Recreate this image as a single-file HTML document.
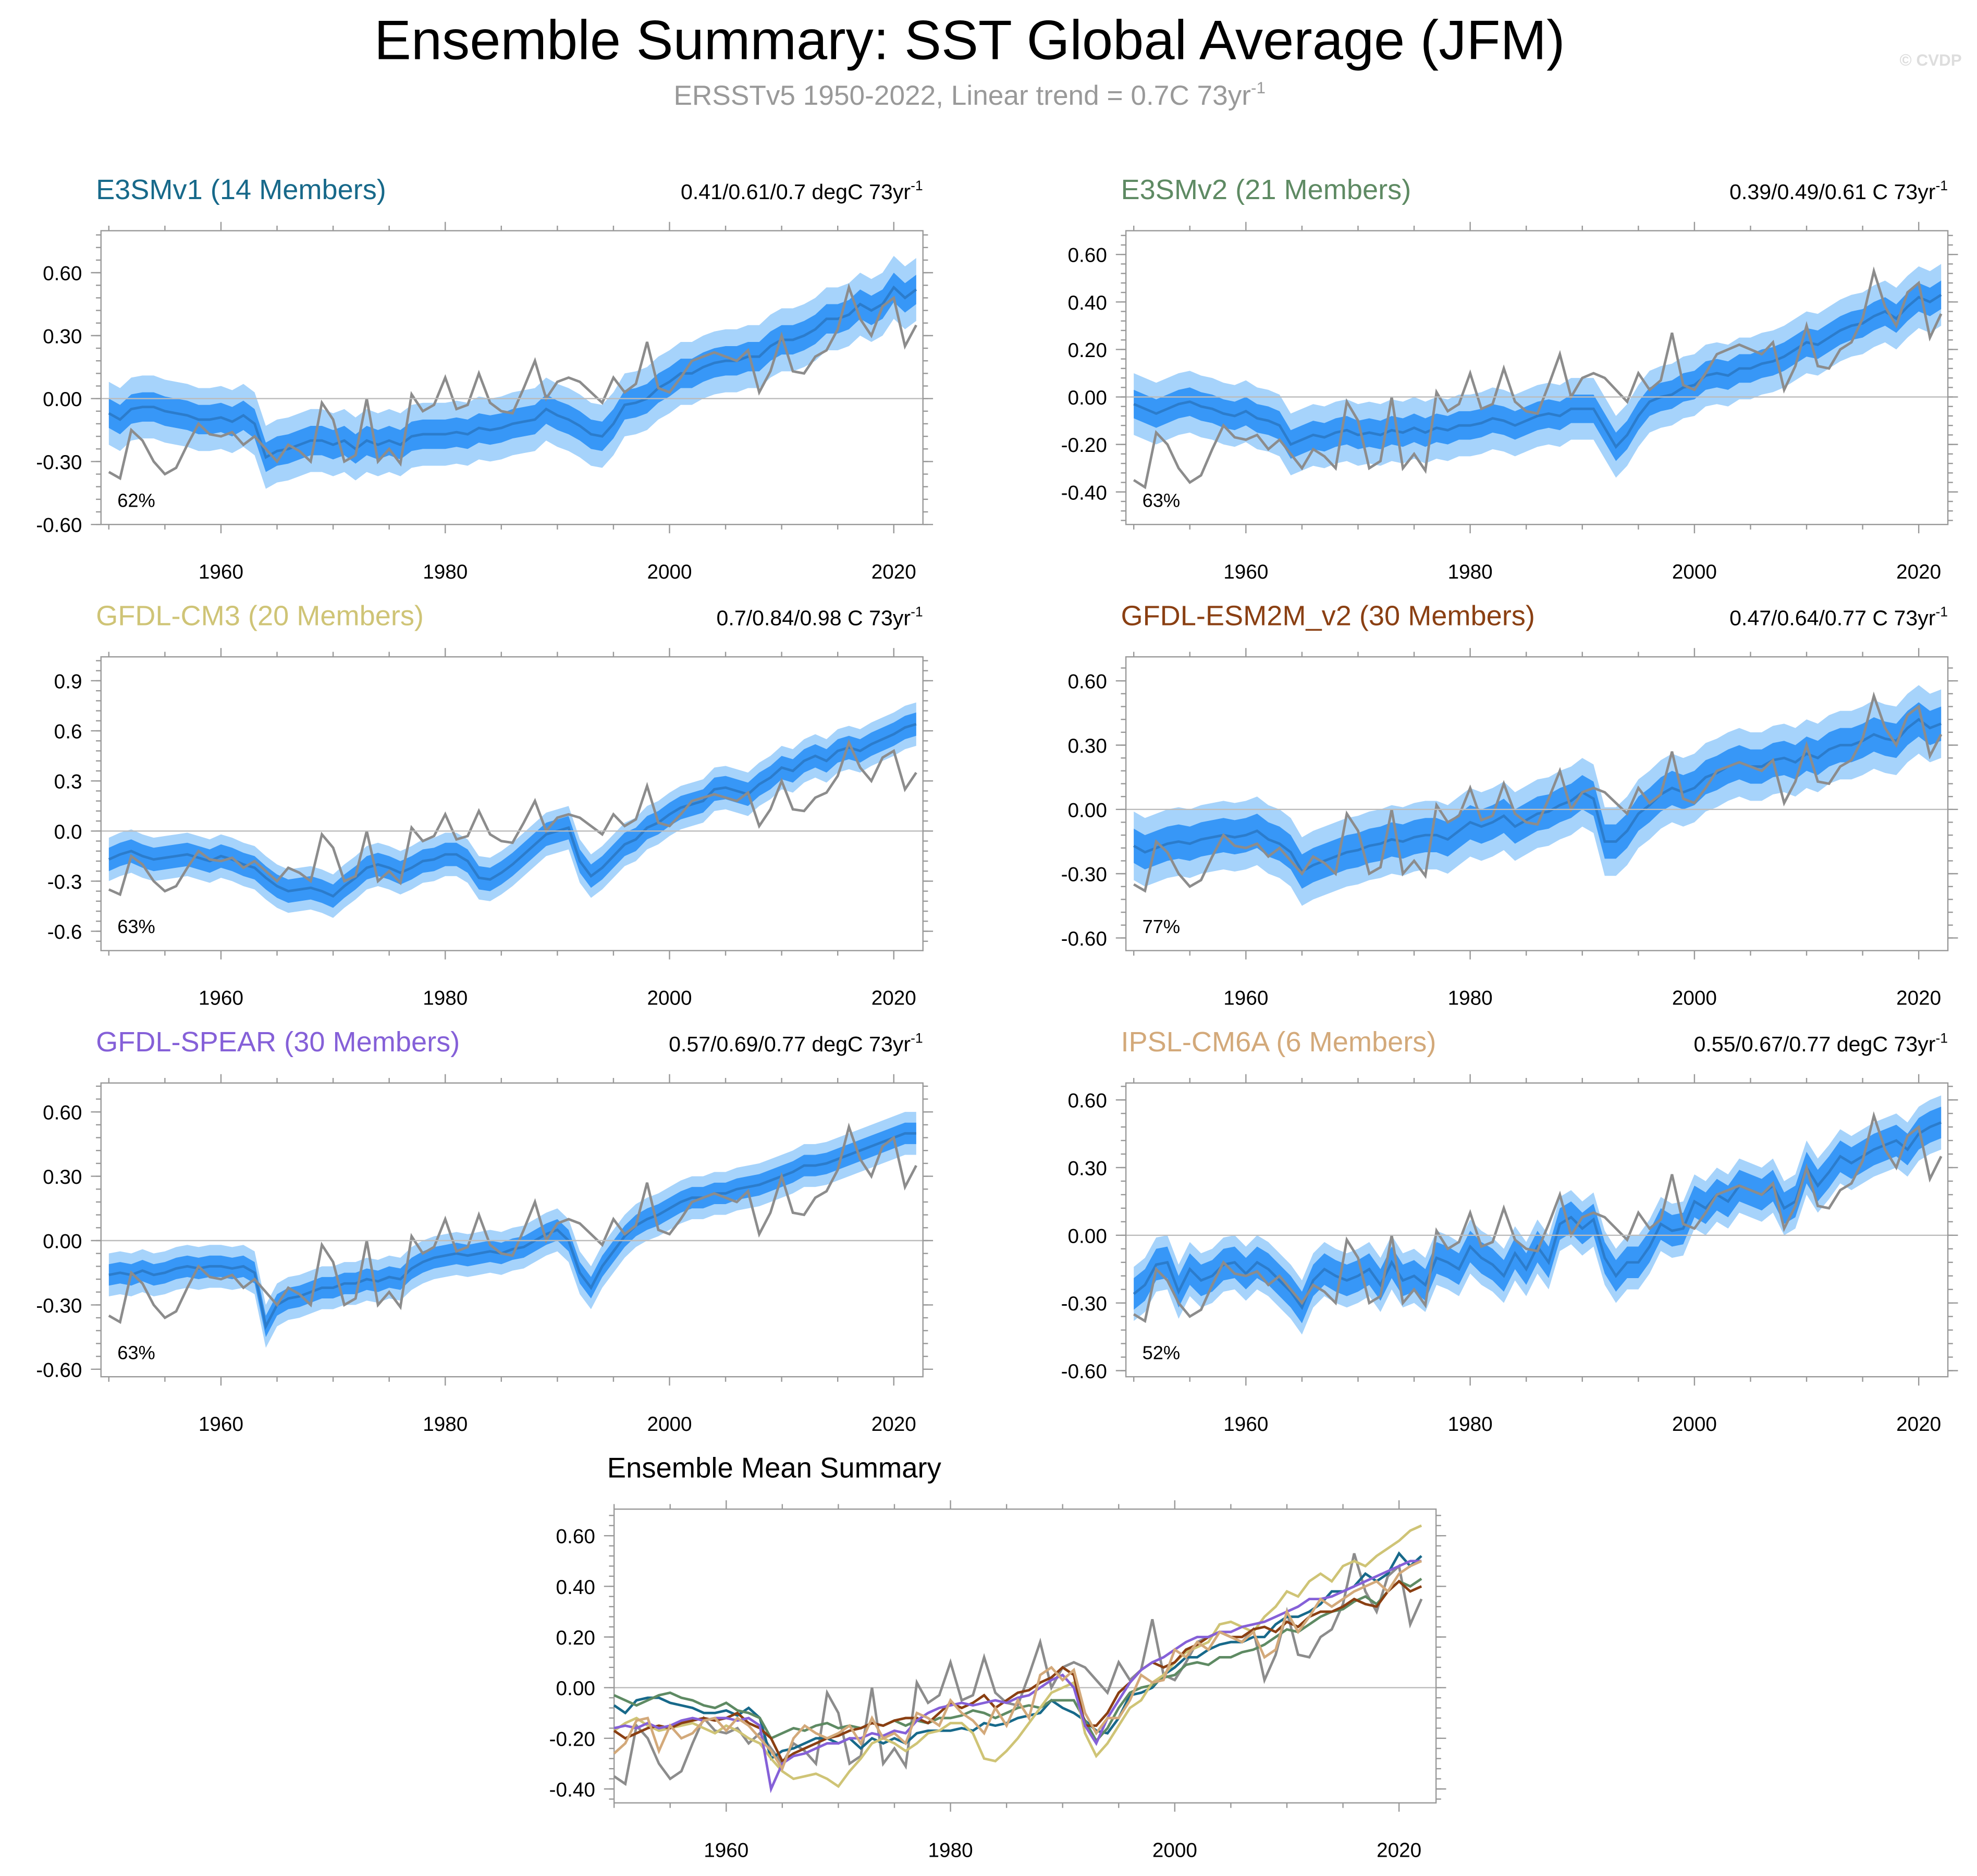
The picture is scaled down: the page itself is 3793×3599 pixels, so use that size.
<!DOCTYPE html>
<html><head><meta charset="utf-8">
<style>
html,body{margin:0;padding:0;background:#fff;}
svg{display:block;font-family:"Liberation Sans",sans-serif;}
</style></head>
<body>
<svg id="chart" width="3793" height="3599" viewBox="0 0 1568 1488" xmlns="http://www.w3.org/2000/svg">
<text x="769" y="47" font-size="44" text-anchor="middle" fill="#000">Ensemble Summary: SST Global Average (JFM)</text>
<text x="769" y="83" font-size="22" text-anchor="middle" fill="#999">ERSSTv5 1950-2022, Linear trend = 0.7C 73yr<tspan dy="-9" font-size="13">-1</tspan></text>
<text x="1556" y="52" font-size="13" text-anchor="end" fill="#ddd" font-weight="bold">© CVDP</text>
<g id="plots"></g>
</svg>
<script>
const years = [];
for (let y = 1950; y <= 2022; y++) years.push(y);

const obs = [
-0.35,-0.38,-0.15,-0.20,-0.30,-0.36,-0.33,-0.22,-0.12,-0.17,
-0.18,-0.16,-0.22,-0.18,-0.24,-0.30,-0.22,-0.25,-0.30,-0.02,
-0.10,-0.30,-0.27,0.00,-0.30,-0.24,-0.31,0.02,-0.06,-0.03,
0.10,-0.05,-0.03,0.12,-0.02,-0.06,-0.07,0.05,0.18,0.00,
0.08,0.10,0.08,0.03,-0.02,0.10,0.03,0.07,0.27,0.05,
0.03,0.10,0.18,0.20,0.22,0.20,0.18,0.23,0.03,0.13,
0.30,0.13,0.12,0.20,0.23,0.33,0.53,0.38,0.30,0.44,
0.48,0.25,0.35];

const meanE3SMv1 = [
-0.07,-0.10,-0.05,-0.04,-0.04,-0.06,-0.07,-0.08,-0.10,-0.10,
-0.09,-0.11,-0.08,-0.12,-0.28,-0.25,-0.24,-0.22,-0.20,-0.20,
-0.22,-0.20,-0.24,-0.20,-0.22,-0.20,-0.22,-0.18,-0.17,-0.17,
-0.17,-0.16,-0.17,-0.14,-0.15,-0.14,-0.12,-0.11,-0.10,-0.05,
-0.08,-0.10,-0.13,-0.17,-0.18,-0.12,-0.03,-0.02,0.00,0.05,
0.08,0.12,0.12,0.15,0.17,0.18,0.18,0.20,0.20,0.25,
0.28,0.28,0.30,0.33,0.38,0.38,0.40,0.45,0.42,0.45,
0.53,0.48,0.52];
const meanE3SMv2 = [
-0.03,-0.05,-0.07,-0.05,-0.03,-0.02,-0.04,-0.05,-0.07,-0.08,
-0.06,-0.09,-0.10,-0.12,-0.20,-0.18,-0.16,-0.17,-0.15,-0.14,
-0.16,-0.15,-0.16,-0.14,-0.15,-0.13,-0.15,-0.13,-0.14,-0.12,
-0.12,-0.11,-0.09,-0.10,-0.12,-0.10,-0.08,-0.07,-0.08,-0.05,
-0.05,-0.05,-0.13,-0.21,-0.16,-0.08,-0.02,0.00,0.01,0.04,
0.05,0.09,0.10,0.09,0.12,0.12,0.14,0.15,0.17,0.20,
0.23,0.22,0.25,0.28,0.30,0.31,0.34,0.36,0.33,0.38,
0.42,0.40,0.43];
const meanCM3 = [
-0.17,-0.14,-0.12,-0.15,-0.17,-0.16,-0.15,-0.14,-0.16,-0.18,
-0.15,-0.17,-0.20,-0.22,-0.28,-0.33,-0.36,-0.35,-0.34,-0.36,
-0.39,-0.33,-0.28,-0.22,-0.20,-0.22,-0.25,-0.22,-0.18,-0.17,
-0.14,-0.14,-0.18,-0.28,-0.29,-0.25,-0.20,-0.14,-0.08,-0.02,
0.00,0.02,-0.18,-0.27,-0.22,-0.15,-0.08,-0.05,0.02,0.05,
0.10,0.14,0.16,0.18,0.25,0.26,0.24,0.22,0.28,0.32,
0.38,0.36,0.42,0.45,0.42,0.48,0.50,0.48,0.52,0.55,
0.58,0.62,0.64];
const meanESM2M = [
-0.17,-0.20,-0.18,-0.16,-0.15,-0.16,-0.14,-0.13,-0.12,-0.13,
-0.12,-0.10,-0.14,-0.16,-0.20,-0.29,-0.26,-0.24,-0.22,-0.20,
-0.19,-0.17,-0.16,-0.14,-0.15,-0.13,-0.12,-0.12,-0.14,-0.10,
-0.06,-0.08,-0.06,-0.03,-0.08,-0.05,-0.02,-0.01,0.02,0.04,
0.08,0.05,-0.15,-0.15,-0.10,-0.02,0.02,0.07,0.10,0.08,
0.10,0.15,0.17,0.20,0.22,0.20,0.20,0.23,0.24,0.22,
0.26,0.24,0.28,0.30,0.30,0.32,0.35,0.33,0.32,0.38,
0.42,0.38,0.40];
const meanSPEAR = [
-0.16,-0.15,-0.16,-0.14,-0.16,-0.15,-0.13,-0.12,-0.13,-0.12,
-0.12,-0.13,-0.12,-0.15,-0.40,-0.30,-0.27,-0.26,-0.24,-0.22,
-0.22,-0.20,-0.20,-0.18,-0.19,-0.17,-0.18,-0.13,-0.10,-0.08,
-0.07,-0.06,-0.07,-0.06,-0.05,-0.06,-0.04,-0.03,0.00,0.03,
0.05,0.00,-0.15,-0.22,-0.12,-0.05,0.02,0.07,0.10,0.12,
0.15,0.18,0.20,0.20,0.22,0.22,0.24,0.25,0.26,0.28,
0.30,0.32,0.35,0.35,0.36,0.38,0.40,0.42,0.44,0.46,
0.48,0.50,0.50];
const meanIPSL = [
-0.26,-0.22,-0.13,-0.12,-0.25,-0.15,-0.20,-0.18,-0.13,-0.12,
-0.17,-0.12,-0.15,-0.20,-0.25,-0.32,-0.20,-0.15,-0.18,-0.20,
-0.18,-0.15,-0.22,-0.12,-0.20,-0.18,-0.22,-0.10,-0.12,-0.15,
-0.05,-0.10,-0.13,-0.18,-0.08,-0.15,-0.05,-0.12,0.05,0.08,
0.03,0.07,-0.10,-0.18,-0.12,-0.12,-0.05,0.05,0.02,0.03,
0.15,0.12,0.18,0.15,0.22,0.20,0.18,0.22,0.12,0.15,
0.30,0.22,0.28,0.35,0.32,0.35,0.38,0.40,0.42,0.38,
0.45,0.48,0.50];

const modelNames = ["E3SMv1 (14 Members)","E3SMv2 (21 Members)","GFDL-CM3 (20 Members)","GFDL-ESM2M_v2 (30 Members)","GFDL-SPEAR (30 Members)","IPSL-CM6A (6 Members)"];
const trendLabels = ["0.41/0.61/0.7 degC 73yr","0.39/0.49/0.61 C 73yr","0.7/0.84/0.98 C 73yr","0.47/0.64/0.77 C 73yr","0.57/0.69/0.77 degC 73yr","0.55/0.67/0.77 degC 73yr"];
const pctLabels = ["62%","63%","63%","77%","63%","52%"];
const innerSpread = [0.07,0.06,0.07,0.08,0.05,0.07];
const outerSpread = [0.15,0.13,0.13,0.16,0.10,0.12];
const means = [meanE3SMv1,meanE3SMv2,meanCM3,meanESM2M,meanSPEAR,meanIPSL];
const modelColors = ["#17698a","#5e8a63","#cfc476","#8a3f12","#8560d8","#d3a97a"];
const yTicksP = [[-0.6,-0.3,0,0.3,0.6],[-0.4,-0.2,0,0.2,0.4,0.6],[-0.6,-0.3,0,0.3,0.6,0.9],[-0.6,-0.3,0,0.3,0.6],[-0.6,-0.3,0,0.3,0.6],[-0.6,-0.3,0,0.3,0.6]];
const yTickFmt = [2,2,1,2,2,2];
const yMinor = [0.06,0.04,0.06,0.06,0.06,0.06];
const yRanges = [[-0.6,0.8],[-0.537,0.70],[-0.716,1.043],[-0.659,0.712],[-0.635,0.735],[-0.627,0.675]];
const xTicks = [1960,1980,2000,2020];

const NS = "http://www.w3.org/2000/svg";
const root = document.getElementById("plots");
function mk(tag, attrs, parent){
  const e = document.createElementNS(NS, tag);
  for (const k in attrs) e.setAttribute(k, attrs[k]);
  (parent||root).appendChild(e);
  return e;
}
const boxes = [[80,183],[893,183],[80,521],[893,521],[80,859],[893,859]];
const W = 652, H = 233;

function axes(bx, by, yr, x0, x1){
  const sx = v => bx + (v - x0) / (x1 - x0) * W;
  const sy = v => by + H - (v - yr[0]) / (yr[1] - yr[0]) * H;
  return {sx, sy};
}
function drawFrame(g, bx, by, sx, sy, yr, ticks, fmt, minor){
  const z = mk("line",{x1:bx,x2:bx+W,y1:sy(0),y2:sy(0),stroke:"#bbb","stroke-width":1},g);
  
  
  const fr = mk("rect",{x:bx,y:by,width:W,height:H,fill:"none",stroke:"#999","stroke-width":1},g);
  
  
  for (let y = 1950; y <= 2022; y += 5){
    const maj = (y % 20 === 0);
    const L = maj ? 7 : 4;
    mk("line",{x1:sx(y),x2:sx(y),y1:by+H,y2:by+H+L,stroke:"#999"},g);
    mk("line",{x1:sx(y),x2:sx(y),y1:by,y2:by-L,stroke:"#999"},g);
  }
  xTicks.forEach(t=>{
    const tx = mk("text",{x:sx(t),y:by+H+43,"font-size":16,"text-anchor":"middle",fill:"#000"},g);
    tx.textContent = t;
    
    
  });
  const start = Math.ceil(yr[0]/minor - 1e-6), end = Math.floor(yr[1]/minor + 1e-6);
  for (let i = start; i <= end; i++){
    const v = i*minor;
    mk("line",{x1:bx,x2:bx-4,y1:sy(v),y2:sy(v),stroke:"#999"},g);
    mk("line",{x1:bx+W,x2:bx+W+4,y1:sy(v),y2:sy(v),stroke:"#999"},g);
  }
  ticks.forEach(t=>{
    mk("line",{x1:bx,x2:bx-8,y1:sy(t),y2:sy(t),stroke:"#999"},g);
    mk("line",{x1:bx+W,x2:bx+W+8,y1:sy(t),y2:sy(t),stroke:"#999"},g);
    const ty = mk("text",{x:bx-15,y:sy(t)+6,"font-size":16,"text-anchor":"end",fill:"#000"},g);
    ty.textContent = (t<0?"-":"") + Math.abs(t).toFixed(fmt);
    
    
  });
}
function linePath(sx, sy, arr){
  return arr.map((v,i)=>(i?"L":"M")+sx(years[i]).toFixed(2)+","+sy(v).toFixed(2)).join("");
}
function bandPath(sx, sy, arr, w){
  let d = arr.map((v,i)=>(i?"L":"M")+sx(years[i]).toFixed(2)+","+sy(v+w).toFixed(2)).join("");
  for (let i = arr.length-1; i >= 0; i--) d += "L"+sx(years[i]).toFixed(2)+","+sy(arr[i]-w).toFixed(2);
  return d+"Z";
}

for (let p = 0; p < 6; p++){
  const [bx, by] = boxes[p];
  const g = mk("g",{});
  
  
  const yr = yRanges[p];
  const {sx, sy} = axes(bx,by,yr,1949.3,2022.6);
  const o = mk("path",{d:bandPath(sx,sy,means[p],outerSpread[p]),fill:"#a6d3fb",stroke:"none"},g);
  
  
  const inn = mk("path",{d:bandPath(sx,sy,means[p],innerSpread[p]),fill:"#3797f7",stroke:"none"},g);
  
  
  const m = mk("path",{d:linePath(sx,sy,means[p]),fill:"none",stroke:"#2b7ccc","stroke-width":2},g);
  
  
  const ob = mk("path",{d:linePath(sx,sy,obs),fill:"none",stroke:"#8c8c8c","stroke-width":2},g);
  
  
  drawFrame(g,bx,by,sx,sy,yr,yTicksP[p],yTickFmt[p],yMinor[p]);
  const t = mk("text",{x:bx-4,y:by-25,"font-size":22.4,fill:modelColors[p]},g);
  t.textContent = modelNames[p];
  
  
  const tr = mk("text",{x:bx+W,y:by-25,"font-size":17,"text-anchor":"end",fill:"#000"},g);
  tr.textContent = trendLabels[p];
  const sup = mk("tspan",{dy:-7,"font-size":11},tr);
  sup.textContent = "-1";
  
  
  const pc = mk("text",{x:bx+13,y:by+H-14,"font-size":15,fill:"#000"},g);
  pc.textContent = pctLabels[p];
  
  
}

// bottom summary
const bg = mk("g",{});


const bbx = 487, bby = 1197, byr = [-0.455,0.705];
const {sx:bsx, sy:bsy} = axes(bbx,bby,byr,1950.0,2023.3);
drawFrame(bg,bbx,bby,bsx,bsy,byr,[-0.4,-0.2,0,0.2,0.4,0.6],2,0.04);
const bob = mk("path",{d:linePath(bsx,bsy,obs),fill:"none",stroke:"#8c8c8c","stroke-width":2},bg);


for (let p = 0; p < 6; p++){
  const l = mk("path",{d:linePath(bsx,bsy,means[p]),fill:"none",stroke:modelColors[p],"stroke-width":2},bg);
  
  
}
const bt = mk("text",{x:614,y:1172,"font-size":22.5,"text-anchor":"middle",fill:"#000"},bg);
bt.textContent = "Ensemble Mean Summary";


</script>
</body></html>
